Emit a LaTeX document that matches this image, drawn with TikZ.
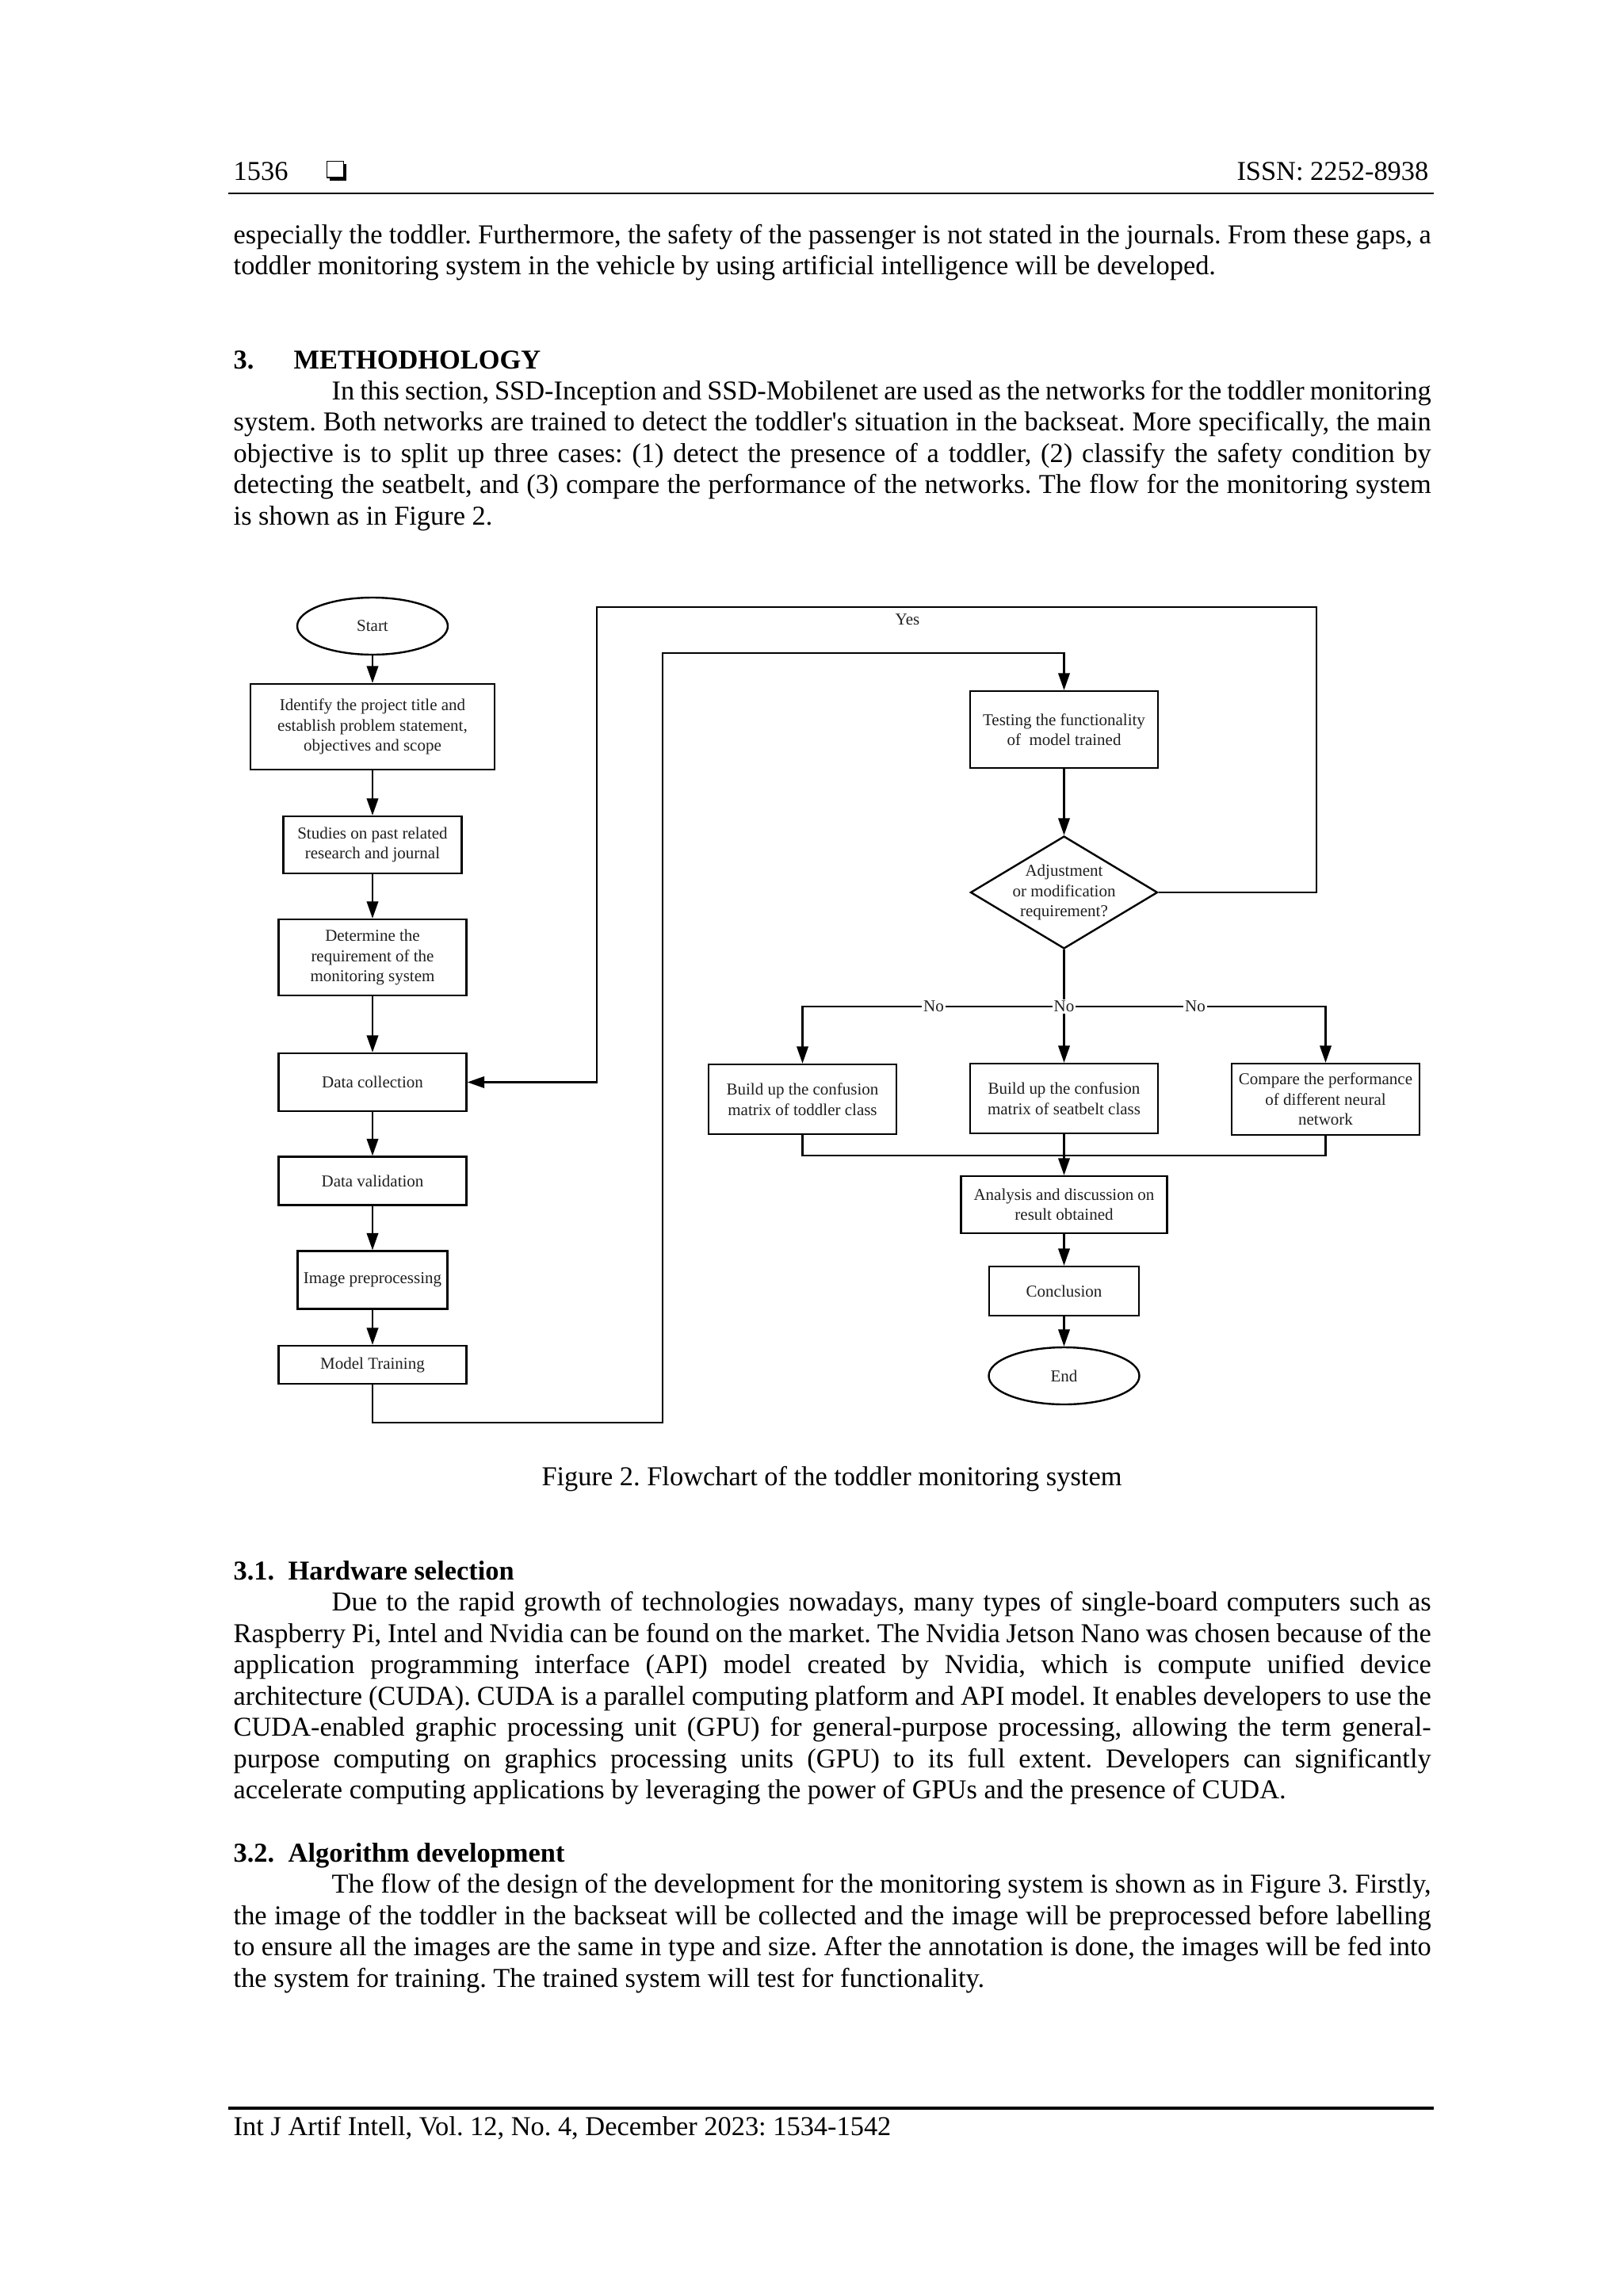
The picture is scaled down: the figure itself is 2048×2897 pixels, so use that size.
\documentclass[tikz,border=0pt]{standalone}
\usepackage{fontspec}
\setmainfont{Liberation Serif}
\newfontfamily\rawserif{Liberation Serif}
\usetikzlibrary{arrows.meta,shapes.geometric}
\newlength\px
\setlength\px{0.290664pt}
\newcommand\fcfont{\fontsize{6.1}{7.4}\selectfont}
\newcommand\bodyfont{\fontsize{10}{11.5}\selectfont}
\definecolor{fctext}{rgb}{0.12,0.12,0.12}
\newcommand\jline[5]{\node[bodyline] (#1) at (#2,#3) {\makebox[#4\px][s]{#5}};}
\newcommand\lline[4]{\node[bodyline] (#1) at (#2,#3) {#4};}
\newcommand\sq{{\rawserif'}}
\frenchspacing
\begin{document}
\frenchspacing
\begin{tikzpicture}[x=0.290664pt, y=-0.290664pt,
  bodyline/.style={anchor=base west, inner sep=0pt, font=\bodyfont},
  headline/.style={anchor=base west, inner sep=0pt, font=\bodyfont\bfseries},
  fbox/.style={draw, line width=0.7pt, rectangle, inner sep=0pt, align=center, font=\fcfont, text=fctext},
  term/.style={draw, line width=0.7pt, ellipse, inner sep=0pt, font=\fcfont, text=fctext},
  decis/.style={draw, line width=0.7pt, diamond, inner sep=0pt},
  ftext/.style={inner sep=0pt, align=center, font=\fcfont, text=fctext},
  lab/.style={inner sep=0.6pt, fill=white, font=\fcfont, text=fctext},
  conn/.style={line width=0.6pt},
  arr/.style={line width=0.6pt, -{Triangle[length=6.2pt,width=4.2pt]}}
]
\useasboundingbox (0,0) rectangle (2048,2897);
\fill[white] (0,0) rectangle (2048,2897);

% ---------- header ----------
\lline{pgno}{294}{227}{1536}
\fill (415.5,206.5) rectangle (437,227.5);
\filldraw[fill=white, draw=black, line width=0.45pt] (412.5,203.5) rectangle (433.5,224);
\node[anchor=base east, inner sep=0pt, font=\bodyfont] (issn) at (1803,227) {ISSN: 2252-8938};
\draw[line width=0.7pt] (288,244) -- (1809,244);

% ---------- opening paragraph ----------
\jline{a1}{294}{307}{1511}{especially the toddler. Furthermore, the safety of the passenger is not stated in the journals. From these gaps, a}
\lline{a2}{294}{346.5}{toddler monitoring system in the vehicle by using artificial intelligence will be developed.}

% ---------- section 3 ----------
\node[headline] (h3n) at (294,465) {3.};
\node[headline] (h3t) at (370,465) {METHODHOLOGY};
\jline{m1}{418}{504}{1387}{In this section, SSD-Inception and SSD-Mobilenet are used as the networks for the toddler monitoring}
\jline{m2}{294}{543.5}{1511}{system. Both networks are trained to detect the toddler\sq s situation in the backseat. More specifically, the main}
\jline{m3}{294}{583}{1511}{objective is to split up three cases: (1) detect the presence of a toddler, (2) classify the safety condition by}
\jline{m4}{294}{622.5}{1511}{detecting the seatbelt, and (3) compare the performance of the networks. The flow for the monitoring system}
\lline{m5}{294}{662}{is shown as in Figure 2.}

% ---------- flowchart: left column ----------
\node[term, minimum width=190\px, minimum height=72\px] (start) at (470,790) {Start};
\node[fbox, minimum width=308\px, minimum height=108\px] (b1) at (470,917) {Identify the project title and\\establish problem statement,\\objectives and scope};
\node[fbox, minimum width=225\px, minimum height=72\px] (b2) at (470,1066) {Studies on past related\\research and journal};
\node[fbox, minimum width=237\px, minimum height=96\px] (b3) at (470,1208) {Determine the\\requirement of the\\monitoring system};
\node[fbox, minimum width=237\px, minimum height=73\px] (b4) at (470,1365.5) {Data collection};
\node[fbox, minimum width=237\px, minimum height=61\px] (b5) at (470,1490) {Data validation};
\node[fbox, minimum width=189\px, minimum height=73\px] (b6) at (470,1615) {Image preprocessing};
\node[fbox, minimum width=237\px, minimum height=48\px] (b7) at (470,1722) {Model Training};

% ---------- flowchart: right column ----------
\node[fbox, minimum width=237\px, minimum height=97\px] (test) at (1342.5,920.5) {Testing the functionality\\of~~model trained};
\node[decis, minimum width=236\px, minimum height=142\px] (dia) at (1342.5,1126) {};
\node[ftext] (diat) at (1342.5,1126) {Adjustment\\or modification\\requirement?};
\node[fbox, minimum width=237\px, minimum height=88\px] (tod) at (1012.5,1387) {Build up the confusion\\matrix of toddler class};
\node[fbox, minimum width=237\px, minimum height=88\px] (seat) at (1342.5,1386) {Build up the confusion\\matrix of seatbelt class};
\node[fbox, minimum width=237\px, minimum height=90\px] (cmp) at (1672.5,1387) {Compare the performance\\of different neural\\network};
\node[fbox, minimum width=260\px, minimum height=72\px] (ana) at (1342.5,1520) {Analysis and discussion on\\result obtained};
\node[fbox, minimum width=189\px, minimum height=62\px] (concl) at (1342.5,1629) {Conclusion};
\node[term, minimum width=190\px, minimum height=72\px] (fin) at (1342.5,1736) {End};

% ---------- helper coordinates ----------
\coordinate (yR) at (1661,766);
\coordinate (yL) at (753,766);
\coordinate (iB) at (836,1795);
\coordinate (iT) at (836,824);
\coordinate (nC) at (1342.5,1270);
\coordinate (mL) at (1012.5,1458);
\coordinate (mR) at (1672.5,1458);

% ---------- connectors ----------
\draw[arr] (start) -- (b1);
\draw[arr] (b1) -- (b2);
\draw[arr] (b2) -- (b3);
\draw[arr] (b3) -- (b4);
\draw[arr] (b4) -- (b5);
\draw[arr] (b5) -- (b6);
\draw[arr] (b6) -- (b7);
\draw[arr] (b7.south) |- (iB) -- (iT) -| (test.north);
\draw[arr] (test) -- (dia);
\draw[arr] (dia.east) -| (yR) -- (yL) |- (b4.east);
\draw[conn] (dia.south) -- (nC);
\draw[arr] (nC) -| (tod.north);
\draw[arr] (nC) -| (cmp.north);
\draw[arr] (nC) -- (seat.north);
\draw[conn] (tod.south) -- (mL) -- (mR) -- (cmp.south);
\draw[arr] (seat.south) -- (ana.north);
\draw[arr] (ana) -- (concl);
\draw[arr] (concl) -- (fin);

% ---------- connector labels ----------
\node[font=\fcfont, text=fctext, inner sep=0pt] (yes) at (1145,782) {Yes};
\node[lab] (noL) at (1178,1270) {No};
\node[lab] (noM) at (1342.5,1270) {No};
\node[lab] (noR) at (1508,1270) {No};

% ---------- caption ----------
\node[anchor=base, inner sep=0pt, font=\bodyfont] (cap) at (1049.5,1874) {Figure 2. Flowchart of the toddler monitoring system};

% ---------- section 3.1 ----------
\node[headline] (h31n) at (294,1993) {3.1.};
\node[headline] (h31t) at (363,1993) {Hardware selection};
\jline{h1}{418}{2032}{1387}{Due to the rapid growth of technologies nowadays, many types of single-board computers such as}
\jline{h2}{294}{2072}{1511}{Raspberry Pi, Intel and Nvidia can be found on the market. The Nvidia Jetson Nano was chosen because of the}
\jline{h3}{294}{2111.5}{1511}{application programming interface (API) model created by Nvidia, which is compute unified device}
\jline{h4}{294}{2151}{1511}{architecture (CUDA). CUDA is a parallel computing platform and API model. It enables developers to use the}
\jline{h5}{294}{2190.5}{1511}{CUDA-enabled graphic processing unit (GPU) for general-purpose processing, allowing the term general-}
\jline{h6}{294}{2230}{1511}{purpose computing on graphics processing units (GPU) to its full extent. Developers can significantly}
\lline{h7}{294}{2269.5}{accelerate computing applications by leveraging the power of GPUs and the presence of CUDA.}

% ---------- section 3.2 ----------
\node[headline] (h32n) at (294,2349) {3.2.};
\node[headline] (h32t) at (363,2349) {Algorithm development};
\jline{g1}{418}{2388.5}{1387}{The flow of the design of the development for the monitoring system is shown as in Figure 3. Firstly,}
\jline{g2}{294}{2428}{1511}{the image of the toddler in the backseat will be collected and the image will be preprocessed before labelling}
\jline{g3}{294}{2467.5}{1511}{to ensure all the images are the same in type and size. After the annotation is done, the images will be fed into}
\lline{g4}{294}{2507}{the system for training. The trained system will test for functionality.}

% ---------- footer ----------
\draw[line width=0.9pt] (288,2660) -- (1809,2660);
\lline{foot}{294}{2694}{Int J Artif Intell, Vol. 12, No. 4, December 2023: 1534-1542}
\end{tikzpicture}
\end{document}
